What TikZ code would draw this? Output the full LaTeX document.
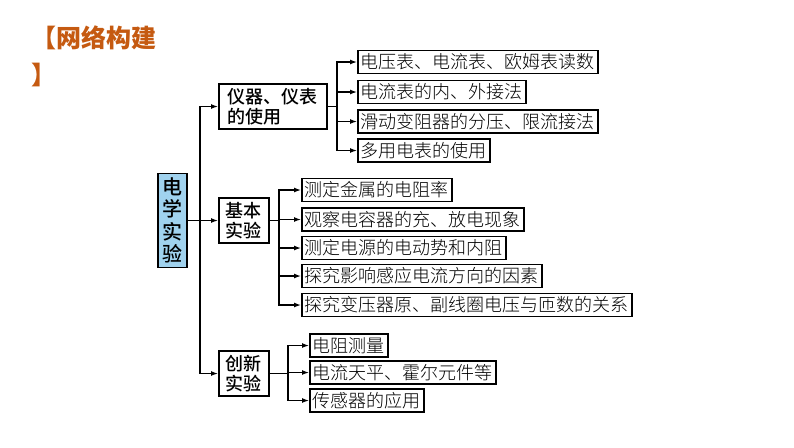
\documentclass[tikz,border=0pt]{standalone}
\usepackage{fontspec}
\newfontfamily\cjk{Noto Sans CJK SC}
\newfontfamily\cjkmed{Noto Sans CJK SC}[UprightFont={* Medium}]
\newfontfamily\cjklight{Noto Sans CJK SC}[UprightFont={* Light}]
\usetikzlibrary{positioning,arrows,arrows.meta}
\definecolor{titlecol}{RGB}{197,90,17}
\definecolor{rootblue}{RGB}{160,210,238}

\begin{document}
\begin{tikzpicture}[x=1pt,y=-1pt,line width=1.3pt,>={Latex[length=7pt,width=5pt]},
	box/.style={draw,line width=1.8pt,anchor=west,inner xsep=7pt,inner ysep=2pt,minimum height=45pt,font=\cjkmed\fontsize{18}{20.5}\selectfont},
	leaf/.style={draw,line width=1.8pt,anchor=west,inner xsep=3pt,inner ysep=1pt,minimum height=23pt,font=\cjklight\fontsize{18}{20}\selectfont}]

		\useasboundingbox (0,0) rectangle (794,447);

		%the title
		\node[anchor=north west,align=left,text=titlecol,font=\cjk\bfseries\fontsize{25}{37}\selectfont] (title) at (28,22) {【网络构建\\】};

		%the root and the three branches
		\node[draw,line width=1.8pt,fill=rootblue,minimum width=29pt,minimum height=94pt,inner sep=1pt,align=center,font=\cjkmed\fontsize{20}{22.5}\selectfont] (root) at (172.5,220.5) {电\\学\\实\\验};
		\node[box,align=left,minimum width=107pt,inner xsep=9pt] (b1) at (218,106.5) {仪器、仪表\\的使用};
		\node[box,align=center,minimum width=50pt] (b2) at (218,220.5) {基本\\实验};
		\node[box,align=center,minimum width=50pt] (b3) at (218,373.5) {创新\\实验};

		%the leaves of each branch
		\node[leaf] (l1) at (357,62) {电压表、电流表、欧姆表读数};
		\node[leaf] (l2) at (357,92) {电流表的内、外接法};
		\node[leaf] (l3) at (357,121.5) {滑动变阻器的分压、限流接法};
		\node[leaf] (l4) at (357,150.5) {多用电表的使用};

		\node[leaf] (m1) at (301,190) {测定金属的电阻率};
		\node[leaf] (m2) at (301,219.5) {观察电容器的充、放电现象};
		\node[leaf] (m3) at (301,248) {测定电源的电动势和内阻};
		\node[leaf] (m4) at (301,276) {探究影响感应电流方向的因素};
		\node[leaf] (m5) at (301,305) {探究变压器原、副线圈电压与匝数的关系};

		\node[leaf] (n1) at (309,345.5) {电阻测量};
		\node[leaf] (n2) at (309,372.5) {电流天平、霍尔元件等};
		\node[leaf] (n3) at (309,400.5) {传感器的应用};

		% the spines
		\coordinate (s0) at (200,0);
		\coordinate (s1) at (337,0);
		\coordinate (s2) at (279,0);
		\coordinate (s3) at (288,0);

		\draw[->] (root.east) -- (b2.west);
		\draw[->] (root.east -| s0) |- (b1.west);
		\draw[->] (root.east -| s0) |- (b3.west);

		\draw (b1.east) -- (b1.east -| s1);
		\foreach \l in {l1,l2,l3,l4}
			\draw[->] (b1.east -| s1) |- (\l.west);

		\draw (b2.east) -- (b2.east -| s2);
		\foreach \l in {m1,m2,m3,m4,m5}
			\draw[->] (b2.east -| s2) |- (\l.west);

		\draw (b3.east) -- (b3.east -| s3);
		\foreach \l in {n1,n2,n3}
			\draw[->] (b3.east -| s3) |- (\l.west);

	\end{tikzpicture}
\end{document}
